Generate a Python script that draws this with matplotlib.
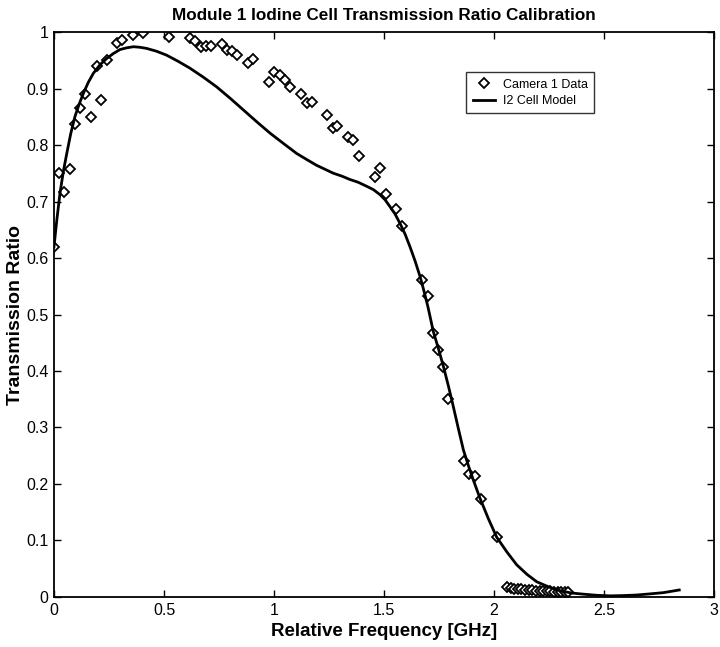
import matplotlib
matplotlib.use("Agg")
import matplotlib.pyplot as plt

plt.rcParams['font.family'] = ['Liberation Sans', 'DejaVu Sans']

# Camera 1 data
data_x = [0.000, 0.024, 0.047, 0.073, 0.095, 0.118, 0.141, 0.167, 0.194, 0.214,
          0.239, 0.285, 0.308, 0.358, 0.406, 0.523, 0.618, 0.641, 0.667, 0.691,
          0.714, 0.762, 0.785, 0.811, 0.833, 0.883, 0.906, 0.977, 1.001, 1.027,
          1.050, 1.073, 1.121, 1.149, 1.171, 1.242, 1.267, 1.288, 1.338, 1.361,
          1.386, 1.459, 1.482, 1.508, 1.555, 1.580, 1.674, 1.698, 1.721, 1.744,
          1.770, 1.792, 1.865, 1.888, 1.914, 1.940, 2.012,
          2.058, 2.075, 2.091, 2.108, 2.124, 2.141, 2.157, 2.174, 2.190, 2.207,
          2.223, 2.240, 2.256, 2.273, 2.289, 2.306, 2.322, 2.338]
data_y = [0.620, 0.750, 0.717, 0.758, 0.838, 0.865, 0.890, 0.850, 0.940, 0.880,
          0.950, 0.981, 0.986, 0.995, 0.998, 0.992, 0.989, 0.985, 0.973, 0.975,
          0.975, 0.979, 0.969, 0.967, 0.959, 0.946, 0.952, 0.912, 0.930, 0.924,
          0.915, 0.902, 0.891, 0.875, 0.877, 0.853, 0.830, 0.834, 0.815, 0.809,
          0.781, 0.743, 0.759, 0.714, 0.687, 0.657, 0.561, 0.532, 0.468, 0.437,
          0.407, 0.350, 0.240, 0.217, 0.215, 0.173, 0.106,
          0.017, 0.016, 0.015, 0.014, 0.014, 0.013, 0.012, 0.012, 0.011, 0.011,
          0.010, 0.010, 0.010, 0.009, 0.009, 0.009, 0.008, 0.008]

# I2 cell model curve
model_x = [0.000, 0.013, 0.027, 0.042, 0.058, 0.076, 0.095, 0.114, 0.133, 0.156,
           0.179, 0.209, 0.239, 0.270, 0.300, 0.330, 0.361, 0.391, 0.421, 0.466,
           0.512, 0.565, 0.618, 0.679, 0.739, 0.800, 0.861, 0.922, 0.982, 1.042,
           1.103, 1.150, 1.194, 1.232, 1.270, 1.308, 1.345, 1.383, 1.421, 1.452,
           1.482, 1.505, 1.527, 1.550, 1.573, 1.596, 1.618, 1.641, 1.664, 1.682,
           1.700, 1.724, 1.747, 1.770, 1.793, 1.815, 1.838, 1.861, 1.884, 1.906,
           1.936, 1.975, 2.012, 2.058, 2.103, 2.150, 2.194, 2.247, 2.300, 2.353,
           2.406, 2.467, 2.527, 2.588, 2.648, 2.709, 2.770, 2.842]
model_y = [0.620, 0.668, 0.714, 0.752, 0.785, 0.820, 0.850, 0.872, 0.891, 0.911,
           0.927, 0.942, 0.953, 0.962, 0.969, 0.972, 0.974, 0.973, 0.971, 0.966,
           0.959, 0.948, 0.936, 0.920, 0.903, 0.883, 0.862, 0.841, 0.821, 0.803,
           0.785, 0.774, 0.764, 0.757, 0.750, 0.745, 0.739, 0.734, 0.727, 0.721,
           0.712, 0.703, 0.691, 0.678, 0.661, 0.642, 0.620, 0.595, 0.567, 0.541,
           0.513, 0.470, 0.440, 0.408, 0.373, 0.337, 0.298, 0.260, 0.232, 0.207,
           0.175, 0.138, 0.106, 0.080, 0.057, 0.040, 0.027, 0.018, 0.011, 0.007,
           0.005, 0.003, 0.002, 0.0025, 0.0035, 0.0055, 0.0077, 0.0124]

xticks = [0, 0.5, 1, 1.5, 2, 2.5, 3]
xticklabels = ['0', '0.5', '1', '1.5', '2', '2.5', '3']
yticks = [0, 0.1, 0.2, 0.3, 0.4, 0.5, 0.6, 0.7, 0.8, 0.9, 1]
yticklabels = ['0', '0.1', '0.2', '0.3', '0.4', '0.5', '0.6', '0.7', '0.8', '0.9', '1']

fig = plt.figure(figsize=(7.2, 6.47), dpi=100)
ax = fig.add_axes([0.075, 0.0773, 0.9167, 0.8732])

ax.plot(data_x, data_y, linestyle='none', marker='D', markersize=5.5,
        markerfacecolor='white', markeredgecolor='black', markeredgewidth=1.3,
        label='Camera 1 Data')
ax.plot(model_x, model_y, color='black', linewidth=2.0, label='I2 Cell Model')

ax.set_xlim(0, 3)
ax.set_ylim(0, 1)
ax.set_xticks(xticks)
ax.set_xticklabels(xticklabels)
ax.set_yticks(yticks)
ax.set_yticklabels(yticklabels)
ax.tick_params(direction='in', top=True, right=True, length=5, width=1,
               labelsize=11.5, pad=4)
for s in ax.spines.values():
    s.set_linewidth(1.3)

ax.set_title('Module 1 Iodine Cell Transmission Ratio Calibration',
             fontsize=12.3, fontweight='bold', pad=9)
ax.set_xlabel('Relative Frequency [GHz]', fontsize=13.5, fontweight='bold', labelpad=4)
ax.set_ylabel('Transmission Ratio', fontsize=14, fontweight='bold')
ax.yaxis.set_label_coords(-0.045, 0.5)

leg = ax.legend(loc='upper left', bbox_to_anchor=(0.6155, 0.9395), fontsize=9,
                frameon=True, fancybox=False, edgecolor='black',
                handlelength=1.8, handletextpad=0.6, borderpad=0.5,
                labelspacing=0.35)
leg.get_frame().set_linewidth(1.0)

fig.savefig('out.png', dpi=100)
